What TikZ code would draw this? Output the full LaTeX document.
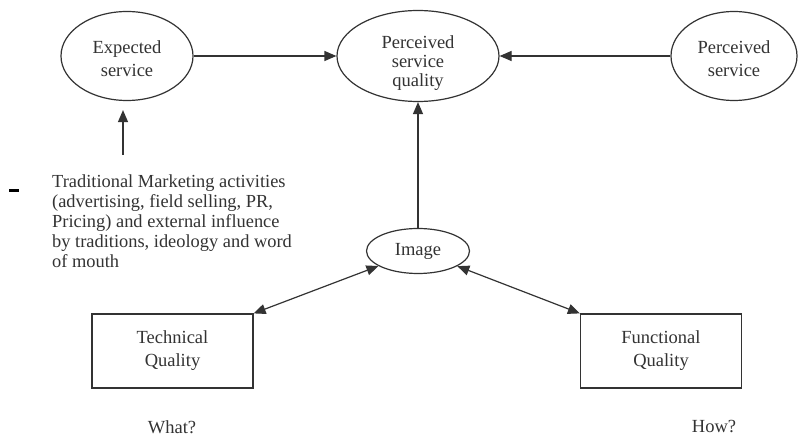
\documentclass[tikz,border=0pt]{standalone}
\usepackage{fontspec}
\setmainfont{Liberation Serif}
\usetikzlibrary{shapes.geometric,arrows.meta}
\definecolor{ink}{HTML}{333333}
\begin{document}
\begin{tikzpicture}[x=1pt,y=-1pt,
  every node/.style={text=ink,font=\fontsize{18.5}{23}\selectfont},
  oval/.style={ellipse,draw=ink,line width=1.2pt,inner sep=0pt,align=center},
  qbox/.style={rectangle,draw=ink,line width=1.2pt,inner sep=0pt,align=center,
    minimum width=161pt,minimum height=74pt},
  link/.style={draw=ink,line width=1.2pt,-{Triangle[length=12pt,width=10pt]}},
  twoway/.style={draw=ink,line width=1.2pt,{Triangle[length=12pt,width=10pt]}-{Triangle[length=12pt,width=10pt]}}]
\useasboundingbox (0,0) rectangle (798,438);
\fill[white] (0,0) rectangle (798,438);

% the three service ellipses along the top
\node[oval,minimum width=132pt,minimum height=89pt] (exp) at (127,56) {};
\node[align=center] at (127,59) {Expected\\service};
\node[oval,minimum width=162pt,minimum height=91pt] (psq) at (418,56) {};
\node[align=center,font=\fontsize{18.5}{19}\selectfont] at (418,63) {Perceived\\service\\quality};
\node[oval,minimum width=126pt,minimum height=89pt] (perc) at (734,56) {};
\node[align=center] at (734,59) {Perceived\\service};

% image and the two quality dimensions
\node[oval,minimum width=103pt,minimum height=45pt] (img) at (418,251) {Image};
\node[qbox] (tech) at (172.5,351) {Technical\\Quality};
\node[qbox] (func) at (661,351) {Functional\\Quality};
\node (what) at (172,427) {What?};
\node (how) at (714,427) {How?};

% external influences on expectations
\node[anchor=north west,align=left,inner sep=0pt,font=\fontsize{18.4}{20}\selectfont] (trad) at (52,175)
  {Traditional Marketing activities\\(advertising, field selling, PR,\\Pricing) and external influence\\by traditions, ideology and word\\of mouth};
\node[fill=black,inner sep=0pt,minimum width=10pt,minimum height=3pt] (dash) at (14,191) {};
\coordinate (tradtop) at (123,155);

% connectors
\draw[link] (exp) -- (psq);
\draw[link] (perc) -- (psq);
\draw[link,shorten >=9pt] (tradtop) -- (tradtop |- exp.south);
\draw[link] (img) -- (psq);
\draw[twoway] (tech.north east) -- (img);
\draw[twoway] (img) -- (func.north west);
\end{tikzpicture}
\end{document}
